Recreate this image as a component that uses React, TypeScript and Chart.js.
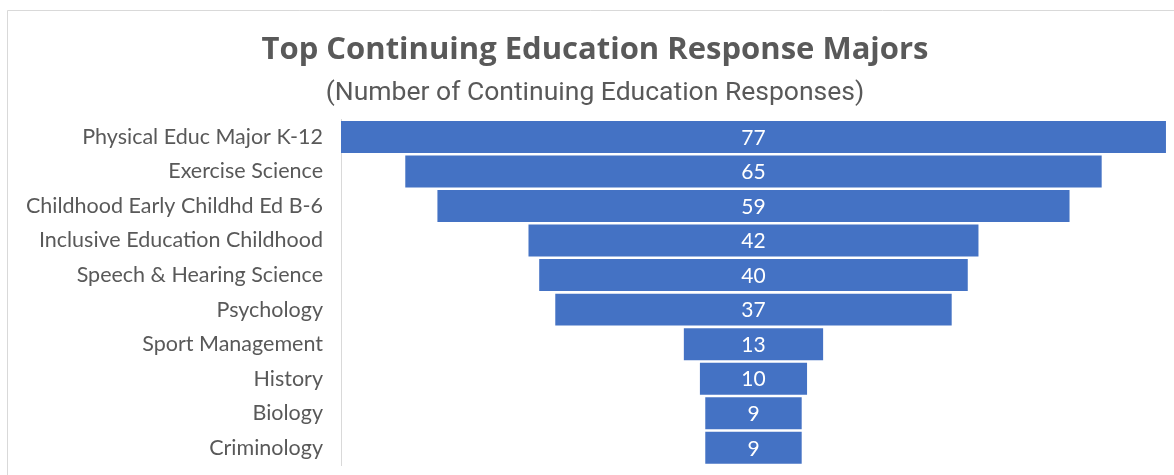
import { useEffect, useRef } from "react";
import { Chart, registerables } from "chart.js";

Chart.register(...registerables);

const categories = [
  "Physical Educ Major K-12",
  "Exercise Science",
  "Childhood Early Childhd Ed B-6",
  "Inclusive Education Childhood",
  "Speech & Hearing Science",
  "Psychology",
  "Sport Management",
  "History",
  "Biology",
  "Criminology",
];
const responses = [77, 65, 59, 42, 40, 37, 13, 10, 9, 9];
const titleText = "Top Continuing Education Response Majors";
const subtitleText = "(Number of Continuing Education Responses)";

const BAR_COLOR = "#4472C4";
const TEXT_COLOR = "#595959";
const LABEL_FONT = "Lato, 'Open Sans', sans-serif";

const framePlugin = {
  id: "frame",
  beforeDraw(chart: any) {
    const ctx = chart.ctx;
    ctx.save();
    ctx.fillStyle = "#ffffff";
    ctx.fillRect(0, 0, chart.width, chart.height);
    ctx.strokeStyle = "#d9d9d9";
    ctx.lineWidth = 1;
    ctx.beginPath();
    ctx.moveTo(7.5, chart.height);
    ctx.lineTo(7.5, 10.5);
    ctx.lineTo(chart.width, 10.5);
    ctx.stroke();
    ctx.restore();
  },
};

const valueLabelPlugin = {
  id: "valueLabels",
  afterDatasetsDraw(chart: any) {
    const ctx = chart.ctx;
    const meta = chart.getDatasetMeta(0);
    ctx.save();
    ctx.fillStyle = "#ffffff";
    ctx.font = `21px ${LABEL_FONT}`;
    ctx.textAlign = "center";
    ctx.textBaseline = "middle";
    meta.data.forEach((bar: any, i: number) => {
      const cx = (bar.x + bar.base) / 2;
      ctx.fillText(String(responses[i]), cx, bar.y + 1);
    });
    ctx.restore();
  },
};

export default function App() {
  const canvasRef = useRef<HTMLCanvasElement | null>(null);

  useEffect(() => {
    if (!canvasRef.current) return;
    const peak = Math.max(...responses);
    const chart = new Chart(canvasRef.current, {
      type: "bar",
      data: {
        labels: categories,
        datasets: [
          {
            data: responses.map((v) => [(peak - v) / 2, (peak + v) / 2]) as any,
            backgroundColor: BAR_COLOR,
            borderWidth: 0,
            barPercentage: 0.926,
            categoryPercentage: 1,
          },
        ],
      },
      options: {
        indexAxis: "y",
        responsive: false,
        animation: false,
        devicePixelRatio: 1,
        layout: { padding: { left: 16, right: 0, top: 0, bottom: 10 } },
        plugins: {
          legend: { display: false },
          tooltip: { enabled: false },
          title: {
            display: true,
            text: titleText,
            color: TEXT_COLOR,
            font: { family: "'Open Sans', sans-serif", size: 31, weight: "bold", lineHeight: 1.2 },
            padding: { top: 31.7, bottom: 8.1 },
          },
          subtitle: {
            display: true,
            text: subtitleText,
            color: TEXT_COLOR,
            font: { family: "Roboto, sans-serif", size: 26.5, weight: "normal", lineHeight: 1.2 },
            padding: { top: 0, bottom: 10.9 },
          },
        },
        scales: {
          x: {
            display: false,
            min: 0,
            max: 77.75,
          },
          y: {
            afterFit(scale: any) {
              scale.width = 325;
              scale.paddingTop = 0;
              scale.paddingBottom = 0;
            },
            grid: { display: false, drawTicks: true, tickLength: 18, tickColor: "rgba(0,0,0,0)" },
            border: { display: true, color: "#d9d9d9", width: 1 },
            ticks: {
              color: TEXT_COLOR,
              padding: 0,
              font: { family: LABEL_FONT, size: 21.5 },
            },
          },
        },
      },
      plugins: [framePlugin, valueLabelPlugin],
    });
    return () => chart.destroy();
  }, []);

  return (
    <div style={{ position: "absolute", left: 0, top: 0, width: 1174, height: 475 }}>
      <canvas ref={canvasRef} width={1174} height={475} />
    </div>
  );
}
